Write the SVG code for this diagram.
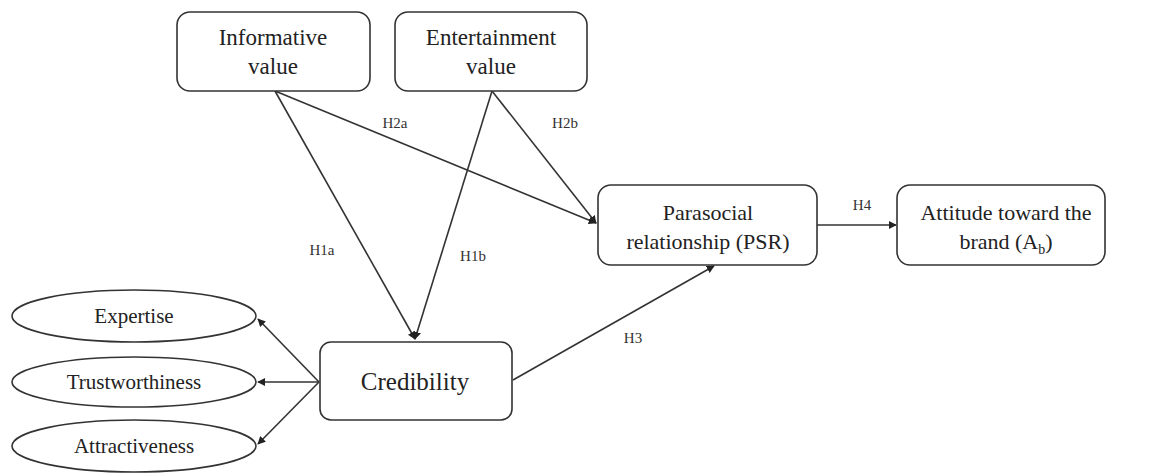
<svg xmlns="http://www.w3.org/2000/svg" width="1151" height="474" viewBox="0 0 1151 474">
  <style>
    .box { fill: #ffffff; stroke: #333333; stroke-width: 1.6; }
    .lbl { font-family: "Liberation Serif", "Times New Roman", serif; font-size: 22px; fill: #222222; text-anchor: middle; }
    .top { font-size: 23px; }
    .ell { font-size: 21px; }
    .big { font-size: 25px; }
    .hyp { font-family: "Liberation Serif", "Times New Roman", serif; font-size: 15px; fill: #333333; text-anchor: middle; }
    .edge { stroke: #333333; stroke-width: 1.6; fill: none; marker-end: url(#head); }
  </style>
  <defs>
    <marker id="head" viewBox="0 0 10 10" refX="9" refY="5" markerWidth="8" markerHeight="8" markerUnits="userSpaceOnUse" orient="auto">
      <path d="M0,0 L10,5 L0,10 z" fill="#222222"/>
    </marker>
  </defs>
  <rect width="1151" height="474" fill="#ffffff"/>

  <g id="connectors">
    <!-- Informative value -> Credibility / PSR -->
    <line class="edge" x1="275" y1="91" x2="415" y2="339"/>
    <line class="edge" x1="275" y1="91" x2="596" y2="223"/>
    <!-- Entertainment value -> Credibility / PSR -->
    <line class="edge" x1="492" y1="91" x2="415" y2="339"/>
    <line class="edge" x1="492" y1="91" x2="596" y2="223"/>
    <!-- Credibility -> PSR -->
    <line class="edge" x1="513" y1="380" x2="714" y2="266"/>
    <!-- PSR -> Attitude -->
    <line class="edge" x1="817" y1="225" x2="896" y2="225"/>
    <!-- Credibility -> dimensions -->
    <line class="edge" x1="319" y1="382" x2="258" y2="319"/>
    <line class="edge" x1="319" y1="382" x2="258" y2="382"/>
    <line class="edge" x1="319" y1="382" x2="258" y2="444"/>
  </g>

  <g id="hyp-labels">
    <text class="hyp" x="395" y="128">H2a</text>
    <text class="hyp" x="565" y="128">H2b</text>
    <text class="hyp" x="322" y="255">H1a</text>
    <text class="hyp" x="473" y="261">H1b</text>
    <text class="hyp" x="633" y="343">H3</text>
    <text class="hyp" x="862" y="210">H4</text>
  </g>

  <g id="informative">
    <rect class="box" x="177" y="12" width="193" height="79" rx="13"/>
    <text class="lbl top" x="273" y="45">Informative</text>
    <text class="lbl top" x="273" y="74">value</text>
  </g>

  <g id="entertainment">
    <rect class="box" x="395" y="12" width="192" height="79" rx="13"/>
    <text class="lbl top" x="491" y="45">Entertainment</text>
    <text class="lbl top" x="491" y="74">value</text>
  </g>

  <g id="psr">
    <rect class="box" x="598" y="185" width="219" height="80" rx="13"/>
    <text class="lbl" x="708" y="220">Parasocial</text>
    <text class="lbl" x="708" y="249">relationship (PSR)</text>
  </g>

  <g id="attitude">
    <rect class="box" x="897" y="185" width="208" height="80" rx="13"/>
    <text class="lbl" x="1006" y="220">Attitude toward the</text>
    <text class="lbl" x="1006" y="249">brand (A<tspan font-size="14" dy="5">b</tspan><tspan dy="-5">)</tspan></text>
  </g>

  <g id="credibility">
    <rect class="box" x="320" y="342" width="192" height="78" rx="11"/>
    <text class="lbl big" x="415" y="390">Credibility</text>
  </g>

  <g id="expertise">
    <ellipse class="box" cx="134" cy="316" rx="122" ry="26"/>
    <text class="lbl ell" x="134" y="323">Expertise</text>
  </g>

  <g id="trustworthiness">
    <ellipse class="box" cx="134" cy="382" rx="122" ry="25"/>
    <text class="lbl ell" x="134" y="389">Trustworthiness</text>
  </g>

  <g id="attractiveness">
    <ellipse class="box" cx="134" cy="446" rx="122" ry="26"/>
    <text class="lbl ell" x="134" y="453">Attractiveness</text>
  </g>
</svg>
